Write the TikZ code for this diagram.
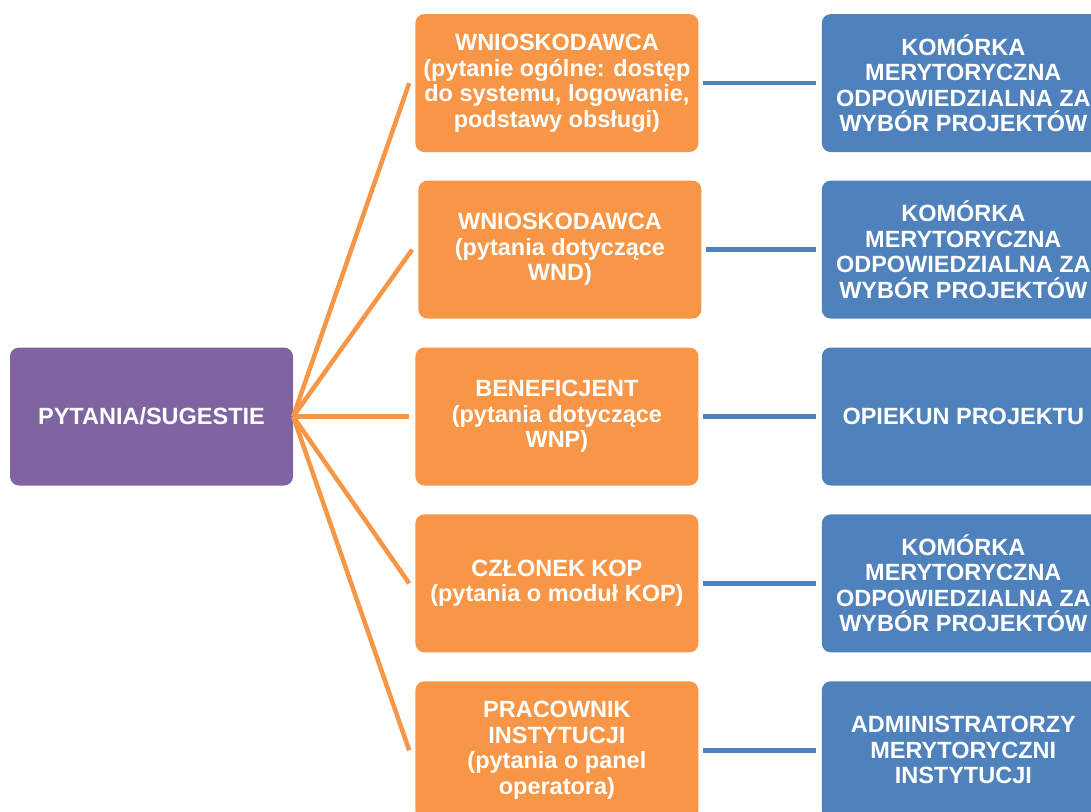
\documentclass[tikz,border=0pt]{standalone}
\usepackage{fontspec}
\setmainfont{Liberation Sans}
\usepackage{xcolor}
\usepackage{tikz}
\usetikzlibrary{positioning}
\definecolor{fiolet}{HTML}{8064A2}
\definecolor{pomarancz}{HTML}{F79646}
\definecolor{niebieski}{HTML}{4F81BD}
\tikzset{
	every node/.style={font=\bfseries\fontsize{23.5}{25.5}\selectfont, text=white, align=center},
	boxnode/.style={
		rectangle, rounded corners=9pt,
		minimum width=283pt, minimum height=138pt, inner sep=2pt
	},
	orangeline/.style={draw=pomarancz, line width=4.5pt},
	blueline/.style={draw=niebieski, line width=4.5pt}
}

\begin{document}
\begin{tikzpicture}[
	x=1pt, y=1pt,
	node distance=28.5pt and 122pt,
	pytnode/.style={boxnode, fill=fiolet},
	ktonode/.style={boxnode, fill=pomarancz},
	odpnode/.style={boxnode, fill=niebieski},
	]
	\useasboundingbox (0,0) rectangle (1091,-811);
	\clip (0,0) rectangle (1091,-811);
	
	%Nodes
	\node[pytnode]      (pytania)    at (151.5,-416.5)         {PYTANIA/SUGESTIE};
	\node[ktonode]      (kto3)       [right=of pytania]        {BENEFICJENT\\(pytania dotyczące\\WNP)};
	\node[ktonode]      (kto2)       [above=of kto3, xshift=3pt] {WNIOSKODAWCA\\(pytania dotyczące\\WND)};
	\node[ktonode]      (kto1)       [above=of kto3, yshift=166.5pt] {WNIOSKODAWCA\\(pytanie ogólne: dostęp\\do systemu, logowanie,\\podstawy obsługi)};
	\node[ktonode]      (kto4)       [below=of kto3]           {CZŁONEK KOP\\(pytania o moduł KOP)};
	\node[ktonode]      (kto5)       [below=of kto4]           {PRACOWNIK\\INSTYTUCJI\\(pytania o panel\\operatora)};
	\node[odpnode]      (odp1)       [right=123pt of kto1]     {KOMÓRKA\\MERYTORYCZNA\\ODPOWIEDZIALNA ZA\\WYBÓR PROJEKTÓW};
	\node[odpnode]      (odp2)       [right=120pt of kto2]     {KOMÓRKA\\MERYTORYCZNA\\ODPOWIEDZIALNA ZA\\WYBÓR PROJEKTÓW};
	\node[odpnode]      (odp3)       [right=123pt of kto3]     {OPIEKUN PROJEKTU};
	\node[odpnode]      (odp4)       [right=123pt of kto4]     {KOMÓRKA\\MERYTORYCZNA\\ODPOWIEDZIALNA ZA\\WYBÓR PROJEKTÓW};
	\node[odpnode]      (odp5)       [right=123pt of kto5]     {ADMINISTRATORZY\\MERYTORYCZNI\\INSTYTUCJI};
	
	%Lines
	\foreach \i in {1,...,5}{
		\draw[orangeline] (pytania.east) -- ([xshift=-6pt]kto\i.west);
		\draw[blueline, shorten <=4pt, shorten >=6pt] (kto\i.east) -- (odp\i.west);
	}
\end{tikzpicture}
\end{document}
